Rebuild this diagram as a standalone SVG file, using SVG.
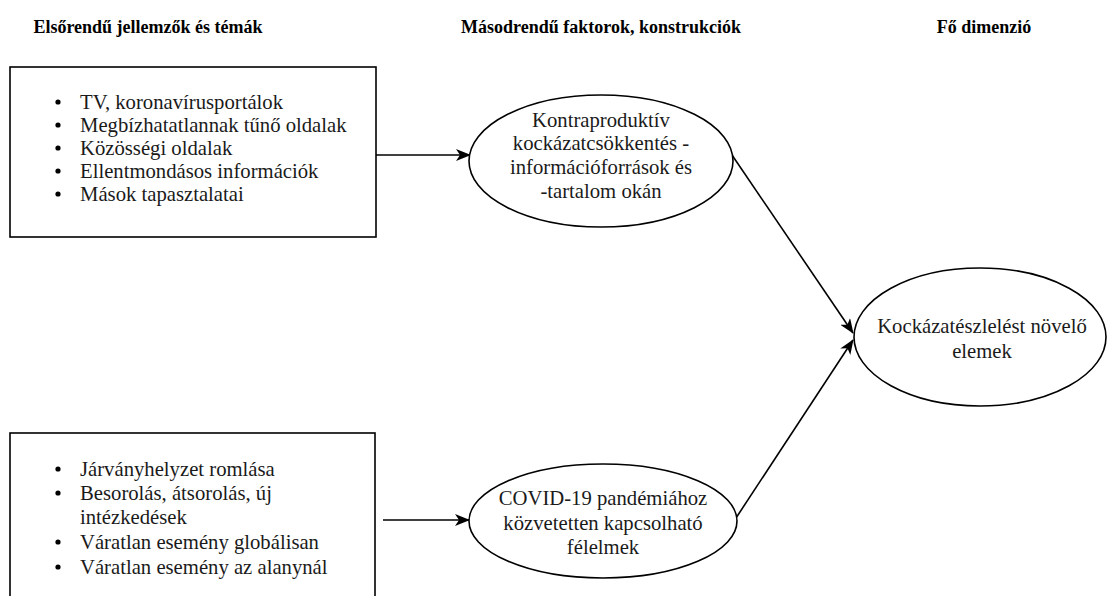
<svg xmlns="http://www.w3.org/2000/svg" width="1107" height="596" viewBox="0 0 1107 596">
  <style>
    .hdr { font-family: "Liberation Serif", "Times New Roman", serif; font-size: 18px; font-weight: bold; fill: #000; text-anchor: middle; }
    .txt { font-family: "Liberation Serif", "Times New Roman", serif; font-size: 20.7px; fill: #1a1a1a; }
    .mid { text-anchor: middle; }
    .shape { fill: #fff; stroke: #000; stroke-width: 1.6; }
    .link { fill: none; stroke: #000; stroke-width: 1.6; }
    .dot { fill: #000; }
  </style>
  <defs>
    <marker id="arrow" markerUnits="userSpaceOnUse" markerWidth="16" markerHeight="12" refX="14" refY="6" orient="auto">
      <path d="M0,0 L15,6 L0,12 L4,6 Z" fill="#000"/>
    </marker>
  </defs>

  <rect width="1107" height="596" fill="#fff"/>

  <!-- column headings -->
  <g id="headings">
    <text class="hdr" x="148" y="33">Elsőrendű jellemzők és témák</text>
    <text class="hdr" x="601" y="33">Másodrendű faktorok, konstrukciók</text>
    <text class="hdr" x="984" y="33">Fő dimenzió</text>
  </g>

  <!-- connectors -->
  <g id="connectors">
    <line class="link" x1="376" y1="155" x2="470" y2="155" marker-end="url(#arrow)"/>
    <line class="link" x1="383" y1="520" x2="469" y2="520" marker-end="url(#arrow)"/>
    <line class="link" x1="732" y1="155" x2="853" y2="333" marker-end="url(#arrow)"/>
    <line class="link" x1="736" y1="518" x2="853" y2="340" marker-end="url(#arrow)"/>
  </g>

  <!-- first-order features: information sources -->
  <g id="box-sources">
    <rect class="shape" x="10" y="67" width="366" height="170"/>
    <circle class="dot" cx="58" cy="102" r="2.6"/>
    <circle class="dot" cx="58" cy="125" r="2.6"/>
    <circle class="dot" cx="58" cy="148" r="2.6"/>
    <circle class="dot" cx="58" cy="171" r="2.6"/>
    <circle class="dot" cx="58" cy="194" r="2.6"/>
    <text class="txt" x="80" y="109">TV, koronavírusportálok</text>
    <text class="txt" x="80" y="132">Megbízhatatlannak tűnő oldalak</text>
    <text class="txt" x="80" y="155">Közösségi oldalak</text>
    <text class="txt" x="80" y="178">Ellentmondásos információk</text>
    <text class="txt" x="80" y="201">Mások tapasztalatai</text>
  </g>

  <!-- first-order features: pandemic events -->
  <g id="box-events">
    <rect class="shape" x="10" y="433" width="365" height="200"/>
    <circle class="dot" cx="58" cy="469" r="2.6"/>
    <circle class="dot" cx="58" cy="493" r="2.6"/>
    <circle class="dot" cx="58" cy="542" r="2.6"/>
    <circle class="dot" cx="58" cy="567" r="2.6"/>
    <text class="txt" x="80" y="476">Járványhelyzet romlása</text>
    <text class="txt" x="80" y="500">Besorolás, átsorolás, új</text>
    <text class="txt" x="80" y="524">intézkedések</text>
    <text class="txt" x="80" y="549">Váratlan esemény globálisan</text>
    <text class="txt" x="80" y="574">Váratlan esemény az alanynál</text>
  </g>

  <!-- second-order factor: counterproductive risk reduction -->
  <g id="factor-info">
    <ellipse class="shape" cx="601" cy="161" rx="132" ry="66"/>
    <text class="txt mid" x="601" y="127">Kontraproduktív</text>
    <text class="txt mid" x="601" y="150">kockázatcsökkentés -</text>
    <text class="txt mid" x="601" y="174">információforrások és</text>
    <text class="txt mid" x="601" y="198">-tartalom okán</text>
  </g>

  <!-- second-order factor: pandemic-related fears -->
  <g id="factor-fears">
    <ellipse class="shape" cx="603" cy="521" rx="134" ry="57"/>
    <text class="txt mid" x="603" y="505">COVID-19 pandémiához</text>
    <text class="txt mid" x="603" y="530">közvetetten kapcsolható</text>
    <text class="txt mid" x="603" y="554">félelmek</text>
  </g>

  <!-- main dimension -->
  <g id="dimension-main">
    <ellipse class="shape" cx="980" cy="337" rx="126" ry="69"/>
    <text class="txt mid" x="982" y="333">Kockázatészlelést növelő</text>
    <text class="txt mid" x="982" y="358">elemek</text>
  </g>
</svg>
